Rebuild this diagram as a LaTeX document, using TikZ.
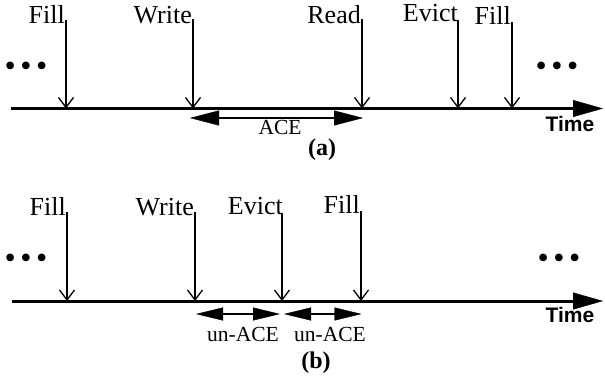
\documentclass[tikz,border=0pt]{standalone}
\usepackage{fontspec}
\setmainfont{Liberation Serif}
\newfontfamily\timefont{Liberation Sans}
\usetikzlibrary{arrows.meta}
\begin{document}
\begin{tikzpicture}[x=1pt,y=-1pt,
  evt/.style={line width=2pt,-{Straight Barb[length=10pt,width=15pt,line width=1.3pt]}},
  axisline/.style={line width=3pt,-{Triangle[length=30pt,width=17pt,line width=0.4pt]}},
  spanarrow/.style={line width=2pt,{Triangle[length=29pt,width=15pt,line width=0.4pt]}-{Triangle[length=29pt,width=15pt,line width=0.4pt]}},
  spanarrowb/.style={line width=2pt,{Triangle[length=27pt,width=13pt,line width=0.4pt]}-{Triangle[length=27pt,width=13pt,line width=0.4pt]}},
  lbl/.style={inner sep=0pt,anchor=base east,font=\fontsize{26}{30}\selectfont},
  spanlbl/.style={inner sep=0pt,anchor=base,font=\fontsize{21.5}{26}\selectfont},
  timelbl/.style={inner sep=0pt,anchor=center,font=\timefont\bfseries\fontsize{21}{25}\selectfont},
  panel/.style={inner sep=0pt,anchor=center,font=\bfseries\fontsize{24}{28}\selectfont},
  dots/.style={inner sep=0pt,anchor=base,font=\fontsize{32}{36}\selectfont}]
\useasboundingbox (0,0) rectangle (605,381);
% ---------- panel (a)
\coordinate (a0) at (11,108.5);
\coordinate (a1) at (603,108.5);
\draw[axisline] (a0) -- (a1);
\coordinate (aFillT) at (66,20);   \coordinate (aFillB) at (66,108.5);
\coordinate (aWriteT) at (193,19); \coordinate (aWriteB) at (193,108.5);
\coordinate (aReadT) at (362,19);  \coordinate (aReadB) at (362,108.5);
\coordinate (aEvictT) at (458,20); \coordinate (aEvictB) at (458,108.5);
\coordinate (aFillTT) at (512,22); \coordinate (aFillBB) at (512,108.5);
\draw[evt] (aFillT) -- (aFillB);
\draw[evt] (aWriteT) -- (aWriteB);
\draw[evt] (aReadT) -- (aReadB);
\draw[evt] (aEvictT) -- (aEvictB);
\draw[evt] (aFillTT) -- (aFillBB);
\node[lbl] (laFill) at (65,23) {Fill};
\node[lbl] (laWrite) at (192,23) {Write};
\node[lbl] (laRead) at (361,23) {Read};
\node[lbl] (laEvict) at (458,21) {Evict};
\node[lbl] (laFill2) at (511,24) {Fill};
\node[dots] (adotsL) at (26,76) {•\hspace{4.5pt}•\hspace{4.5pt}•};
\node[dots] (adotsR) at (557,76) {•\hspace{4.5pt}•\hspace{4.5pt}•};
\coordinate (aceL) at (190,118);
\coordinate (aceR) at (363,118);
\draw[spanarrow] (aceL) -- (aceR);
\node[spanlbl] (ace) at (280,134) {ACE};
\node[timelbl] (atime) at (570,124) {Time};
\node[panel] (pa) at (322,150) {(a)};
% ---------- panel (b)
\coordinate (b0) at (12,301);
\coordinate (b1) at (603,301);
\draw[axisline] (b0) -- (b1);
\coordinate (bFillT) at (67,212);   \coordinate (bFillB) at (67,301);
\coordinate (bWriteT) at (195,212); \coordinate (bWriteB) at (195,301);
\coordinate (bEvictT) at (282,213); \coordinate (bEvictB) at (282,301);
\coordinate (bFillTT) at (361,211); \coordinate (bFillBB) at (361,301);
\draw[evt] (bFillT) -- (bFillB);
\draw[evt] (bWriteT) -- (bWriteB);
\draw[evt] (bEvictT) -- (bEvictB);
\draw[evt] (bFillTT) -- (bFillBB);
\node[lbl] (lbFill) at (66,215) {Fill};
\node[lbl] (lbWrite) at (194,215) {Write};
\node[lbl] (lbEvict) at (283,214) {Evict};
\node[lbl] (lbFill2) at (360,213) {Fill};
\node[dots] (bdotsL) at (26,268) {•\hspace{4.5pt}•\hspace{4.5pt}•};
\node[dots] (bdotsR) at (559,268) {•\hspace{4.5pt}•\hspace{4.5pt}•};
\coordinate (ua1L) at (196,314);
\coordinate (ua1R) at (280,314);
\coordinate (ua2L) at (284,314);
\coordinate (ua2R) at (361.5,314);
\draw[spanarrowb] (ua1L) -- (ua1R);
\draw[spanarrowb] (ua2L) -- (ua2R);
\node[spanlbl] (unace1) at (243,341.5) {un-ACE};
\node[spanlbl] (unace2) at (330,341.5) {un-ACE};
\node[timelbl] (btime) at (570,315) {Time};
\node[panel] (pb) at (316,363) {(b)};
\end{tikzpicture}
\end{document}
